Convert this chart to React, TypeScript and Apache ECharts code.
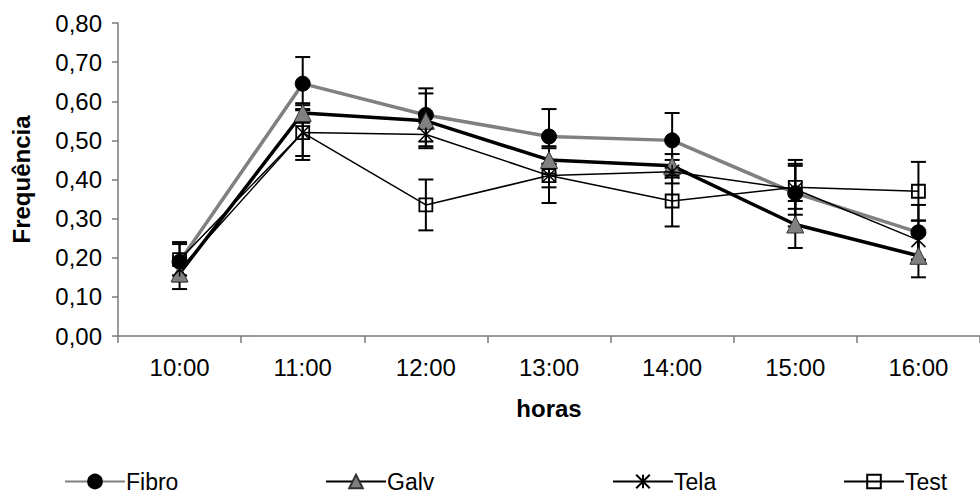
import React, { useEffect, useRef } from "react";
import * as echarts from "echarts";

// Hours of observation on the category axis
const hours = ["10:00", "11:00", "12:00", "13:00", "14:00", "15:00", "16:00"];

// Mean frequency per roof type
const fibro = [0.19, 0.645, 0.565, 0.51, 0.5, 0.365, 0.265];
const galv = [0.16, 0.57, 0.55, 0.45, 0.435, 0.285, 0.205];
const tela = [0.17, 0.52, 0.515, 0.41, 0.42, 0.375, 0.245];
const test = [0.195, 0.52, 0.335, 0.41, 0.345, 0.38, 0.37];

// Error bar half-widths (±) per roof type
const fibroErr = [0.05, 0.068, 0.068, 0.07, 0.07, 0.085, 0.07];
const galvErr = [0.04, 0.025, 0.07, 0.035, 0.03, 0.06, 0.055];
const telaErr = [0.03, 0.07, 0.03, 0.07, 0.03, 0.065, 0.05];
const testErr = [0.04, 0.06, 0.065, 0.03, 0.065, 0.055, 0.075];

const FONT = "'Liberation Sans', Arial, sans-serif";
const ASTERISK = "path://M0,0L10,10M10,0L0,10M5,0L5,10";

function errorRows(values: number[], errs: number[]) {
  return values.map((v, i) => [i, v - errs[i], v + errs[i]]);
}

function errorSeries(name: string, values: number[], errs: number[]) {
  return {
    type: "custom",
    name: name + "-err",
    silent: true,
    z: 1,
    data: errorRows(values, errs),
    encode: { x: 0, y: [1, 2] },
    renderItem: (_params: any, api: any) => {
      const idx = api.value(0);
      const lo = api.coord([idx, api.value(1)]);
      const hi = api.coord([idx, api.value(2)]);
      const half = 7.5;
      const st = { stroke: "#000", lineWidth: 2 };
      return {
        type: "group",
        children: [
          { type: "line", shape: { x1: lo[0], y1: lo[1], x2: hi[0], y2: hi[1] }, style: st },
          { type: "line", shape: { x1: lo[0] - half, y1: lo[1], x2: lo[0] + half, y2: lo[1] }, style: st },
          { type: "line", shape: { x1: hi[0] - half, y1: hi[1], x2: hi[0] + half, y2: hi[1] }, style: st },
        ],
      };
    },
  };
}

export default function App() {
  const ref = useRef<HTMLDivElement>(null);

  useEffect(() => {
    if (!ref.current) return;
    const chart = echarts.init(ref.current, null, { renderer: "svg" });

    const legendBase = {
      top: 470,
      padding: 0,
      itemWidth: 60,
      itemHeight: 17,
      itemGap: 0,
      textStyle: { fontFamily: FONT, fontSize: 23, color: "#000", padding: [0, 0, 0, -4] },
      selectedMode: false,
    };

    chart.setOption({
      animation: false,
      backgroundColor: "#fff",
      textStyle: { fontFamily: FONT },
      grid: { left: 118, top: 23, width: 874, height: 313, containLabel: false },
      legend: [
        { ...legendBase, left: 64, data: ["Fibro"] },
        { ...legendBase, left: 325, data: ["Galv"] },
        { ...legendBase, left: 612, data: ["Tela"] },
        { ...legendBase, left: 843, data: ["Test"] },
      ],
      xAxis: {
        type: "category",
        data: hours,
        boundaryGap: true,
        name: "horas",
        nameLocation: "middle",
        nameGap: 60,
        nameTextStyle: { fontFamily: FONT, fontSize: 24, fontWeight: "bold", color: "#000" },
        axisLine: { lineStyle: { color: "#7a7a7a", width: 1.5 } },
        axisTick: { show: true, length: 7, alignWithLabel: false, lineStyle: { color: "#7a7a7a", width: 1.5 } },
        axisLabel: { fontFamily: FONT, fontSize: 24, color: "#000", margin: 19 },
        splitLine: { show: false },
      },
      yAxis: {
        type: "value",
        min: 0,
        max: 0.8,
        interval: 0.1,
        name: "Frequência",
        nameLocation: "middle",
        nameRotate: 90,
        nameGap: 85,
        nameTextStyle: { fontFamily: FONT, fontSize: 24, fontWeight: "bold", color: "#000" },
        axisLine: { show: true, lineStyle: { color: "#7a7a7a", width: 1.5 } },
        axisTick: { show: true, length: 6, inside: false, lineStyle: { color: "#7a7a7a", width: 1.5 } },
        axisLabel: {
          fontFamily: FONT,
          fontSize: 24,
          color: "#000",
          margin: 16,
          formatter: (v: number) => v.toFixed(2).replace(".", ","),
        },
        splitLine: { show: false },
      },
      series: [
        errorSeries("Fibro", fibro, fibroErr),
        errorSeries("Galv", galv, galvErr),
        errorSeries("Tela", tela, telaErr),
        errorSeries("Test", test, testErr),
        {
          type: "line",
          name: "Fibro",
          data: fibro,
          z: 3,
          symbol: "circle",
          symbolSize: 15,
          itemStyle: { color: "#000", borderColor: "#000", borderWidth: 1 },
          lineStyle: { color: "#808080", width: 3.5 },
          emphasis: { disabled: true },
        },
        {
          type: "line",
          name: "Galv",
          data: galv,
          z: 4,
          symbol: "triangle",
          symbolSize: 17,
          itemStyle: { color: "#808080", borderColor: "#333", borderWidth: 1 },
          lineStyle: { color: "#000", width: 3.5 },
          emphasis: { disabled: true },
        },
        {
          type: "line",
          name: "Tela",
          data: tela,
          z: 5,
          symbol: ASTERISK,
          symbolSize: 14,
          itemStyle: { color: "#000", borderColor: "#000", borderWidth: 1.5 },
          lineStyle: { color: "#000", width: 1.5 },
          emphasis: { disabled: true },
        },
        {
          type: "line",
          name: "Test",
          data: test,
          z: 6,
          symbol: "rect",
          symbolSize: 13,
          itemStyle: { color: "rgba(0,0,0,0)", borderColor: "#000", borderWidth: 1.8 },
          lineStyle: { color: "#000", width: 1.5 },
          emphasis: { disabled: true },
        },
      ],
    });

    return () => chart.dispose();
  }, []);

  return (
    <div
      ref={ref}
      style={{ position: "fixed", left: 0, top: 0, width: 980, height: 496, overflow: "hidden" }}
    />
  );
}
